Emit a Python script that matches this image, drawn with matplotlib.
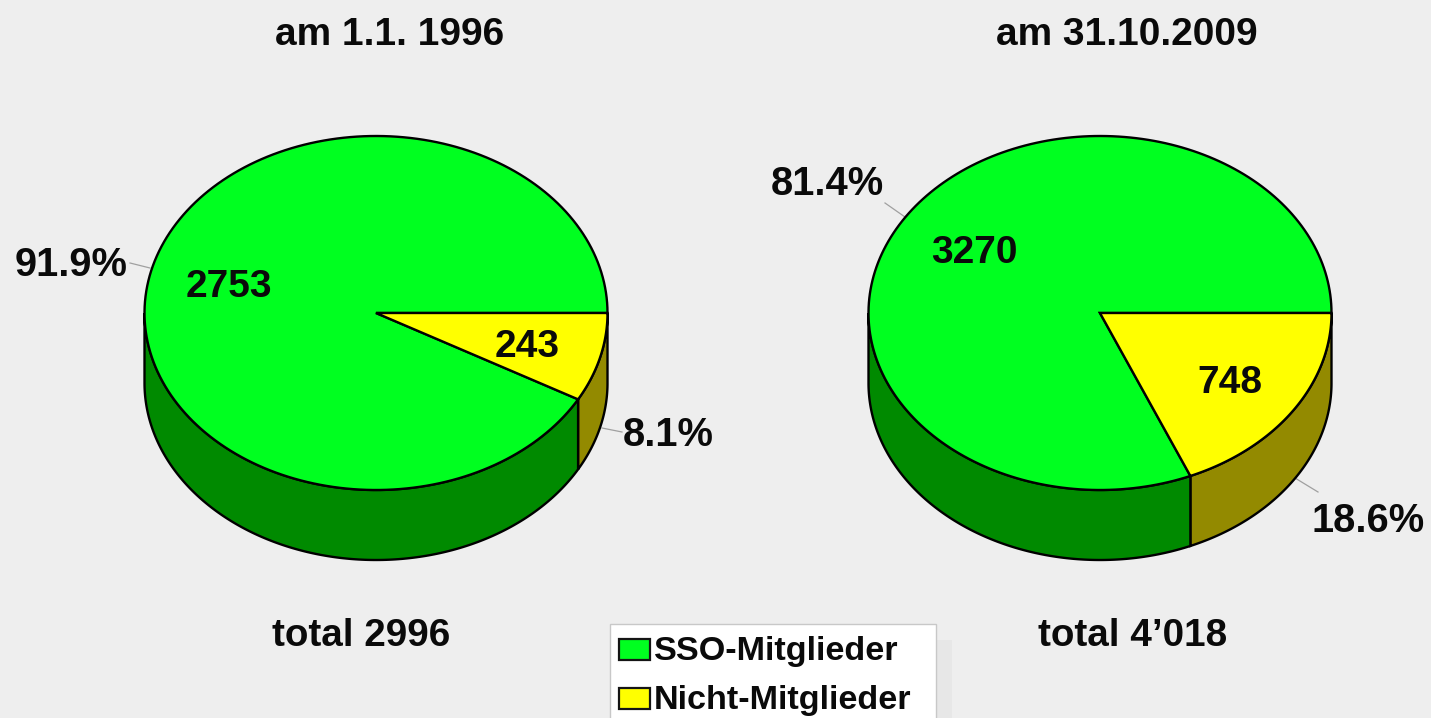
import numpy as np
import matplotlib
matplotlib.use("Agg")
import matplotlib.pyplot as plt
from matplotlib.patches import Polygon, Rectangle

W, H = 1431, 718
BG = "#eeeeee"
categories = ["SSO-Mitglieder", "Nicht-Mitglieder"]
titles = ["am 1.1. 1996", "am 31.10.2009"]
totals = ["total 2996", "total 4\u2019018"]
members = [2753, 3270]
non_members = [243, 748]
member_pct = ["91.9%", "81.4%"]
non_member_pct = ["8.1%", "18.6%"]

TOP = {"m": "#00ff20", "n": "#ffff00"}
SIDE = {"m": "#008a00", "n": "#938a00"}
plt.rcParams["font.family"] = ["Liberation Sans", "DejaVu Sans"]

fig = plt.figure(figsize=(W / 100, H / 100), dpi=100, facecolor=BG)
ax = fig.add_axes([0, 0, 1, 1])
ax.set_xlim(0, W)
ax.set_ylim(H, 0)
ax.axis("off")

RX, RY, DEPTH, CY = 231.5, 177, 70, 313
LW = 1.7


def pt(cx, a, dy=0.0):
    return cx + RX * np.cos(a), CY + RY * np.sin(a) + dy


def rim(cx, a0, a1, dy=0.0):
    t = np.linspace(a0, a1, 200)
    return np.column_stack(pt(cx, t, dy))


def draw_pie(cx, member, non_member, title, total, mp, np_txt, layout):
    a = 2 * np.pi * non_member / (member + non_member)
    top_n = rim(cx, 0, a)
    ax.add_patch(Polygon(np.vstack([top_n, rim(cx, a, 0, DEPTH)]), fc=SIDE["n"], ec="k", lw=LW, zorder=2))
    top_m = rim(cx, a, np.pi)
    ax.add_patch(Polygon(np.vstack([top_m, rim(cx, np.pi, a, DEPTH)]), fc=SIDE["m"], ec="k", lw=LW, zorder=2))
    centre = [[cx, CY]]
    ax.add_patch(Polygon(np.vstack([centre, rim(cx, a, 2 * np.pi)]), fc=TOP["m"], ec="k", lw=LW, zorder=3))
    ax.add_patch(Polygon(np.vstack([centre, rim(cx, 0, a)]), fc=TOP["n"], ec="k", lw=LW, zorder=3))

    bold = dict(fontweight="bold", ha="center", va="center", color="#0a0a0a", zorder=6)
    ax.text(layout["title"], 35, title, fontsize=28, **bold)
    ax.text(layout["total"], 636, total, fontsize=27.8, **bold)
    ax.text(*layout["mval"], f"{member}", fontsize=28, **bold)
    ax.text(*layout["nval"], f"{non_member}", fontsize=28, **bold)
    ax.text(*layout["mpct"], mp, fontsize=28.7, **bold)
    ax.text(*layout["npct"], np_txt, fontsize=28.7, **bold)
    for seg in layout["leaders"]:
        ax.plot(*zip(*seg), color="#a0a0a0", lw=0.9, zorder=1)


layouts = [
    dict(title=390, total=361, mval=(229, 287), nval=(527, 347), mpct=(71, 265), npct=(668, 435),
         leaders=[((130, 263), (150, 268)), ((602, 428), (622, 432))]),
    dict(title=1127, total=1133, mval=(974, 253), nval=(1230, 383), mpct=(827, 184), npct=(1368, 521),
         leaders=[((885, 203), (905, 217)), ((1295, 478), (1318, 492))]),
]
centres = [376, 1100]
for i in range(2):
    draw_pie(centres[i], members[i], non_members[i], titles[i], totals[i],
             member_pct[i], non_member_pct[i], layouts[i])

# legend panel with soft shadow
ax.add_patch(Rectangle((620, 640), 332, 90, fc="#e7e7e7", ec="none", zorder=4))
ax.add_patch(Rectangle((610, 624), 326, 100, fc="white", ec="#c8c8c8", lw=1, zorder=5))
for name, col, y in zip(categories, [TOP["m"], TOP["n"]], [649, 698.5]):
    ax.add_patch(Rectangle((619, y - 10.5), 31, 21, fc=col, ec="#151515", lw=1.6, zorder=6))
    ax.text(654, y + 2.5, name, fontsize=24.6, fontweight="bold", ha="left", va="center",
            color="#0a0a0a", zorder=6)

fig.savefig("out.png", dpi=100, facecolor=BG)
